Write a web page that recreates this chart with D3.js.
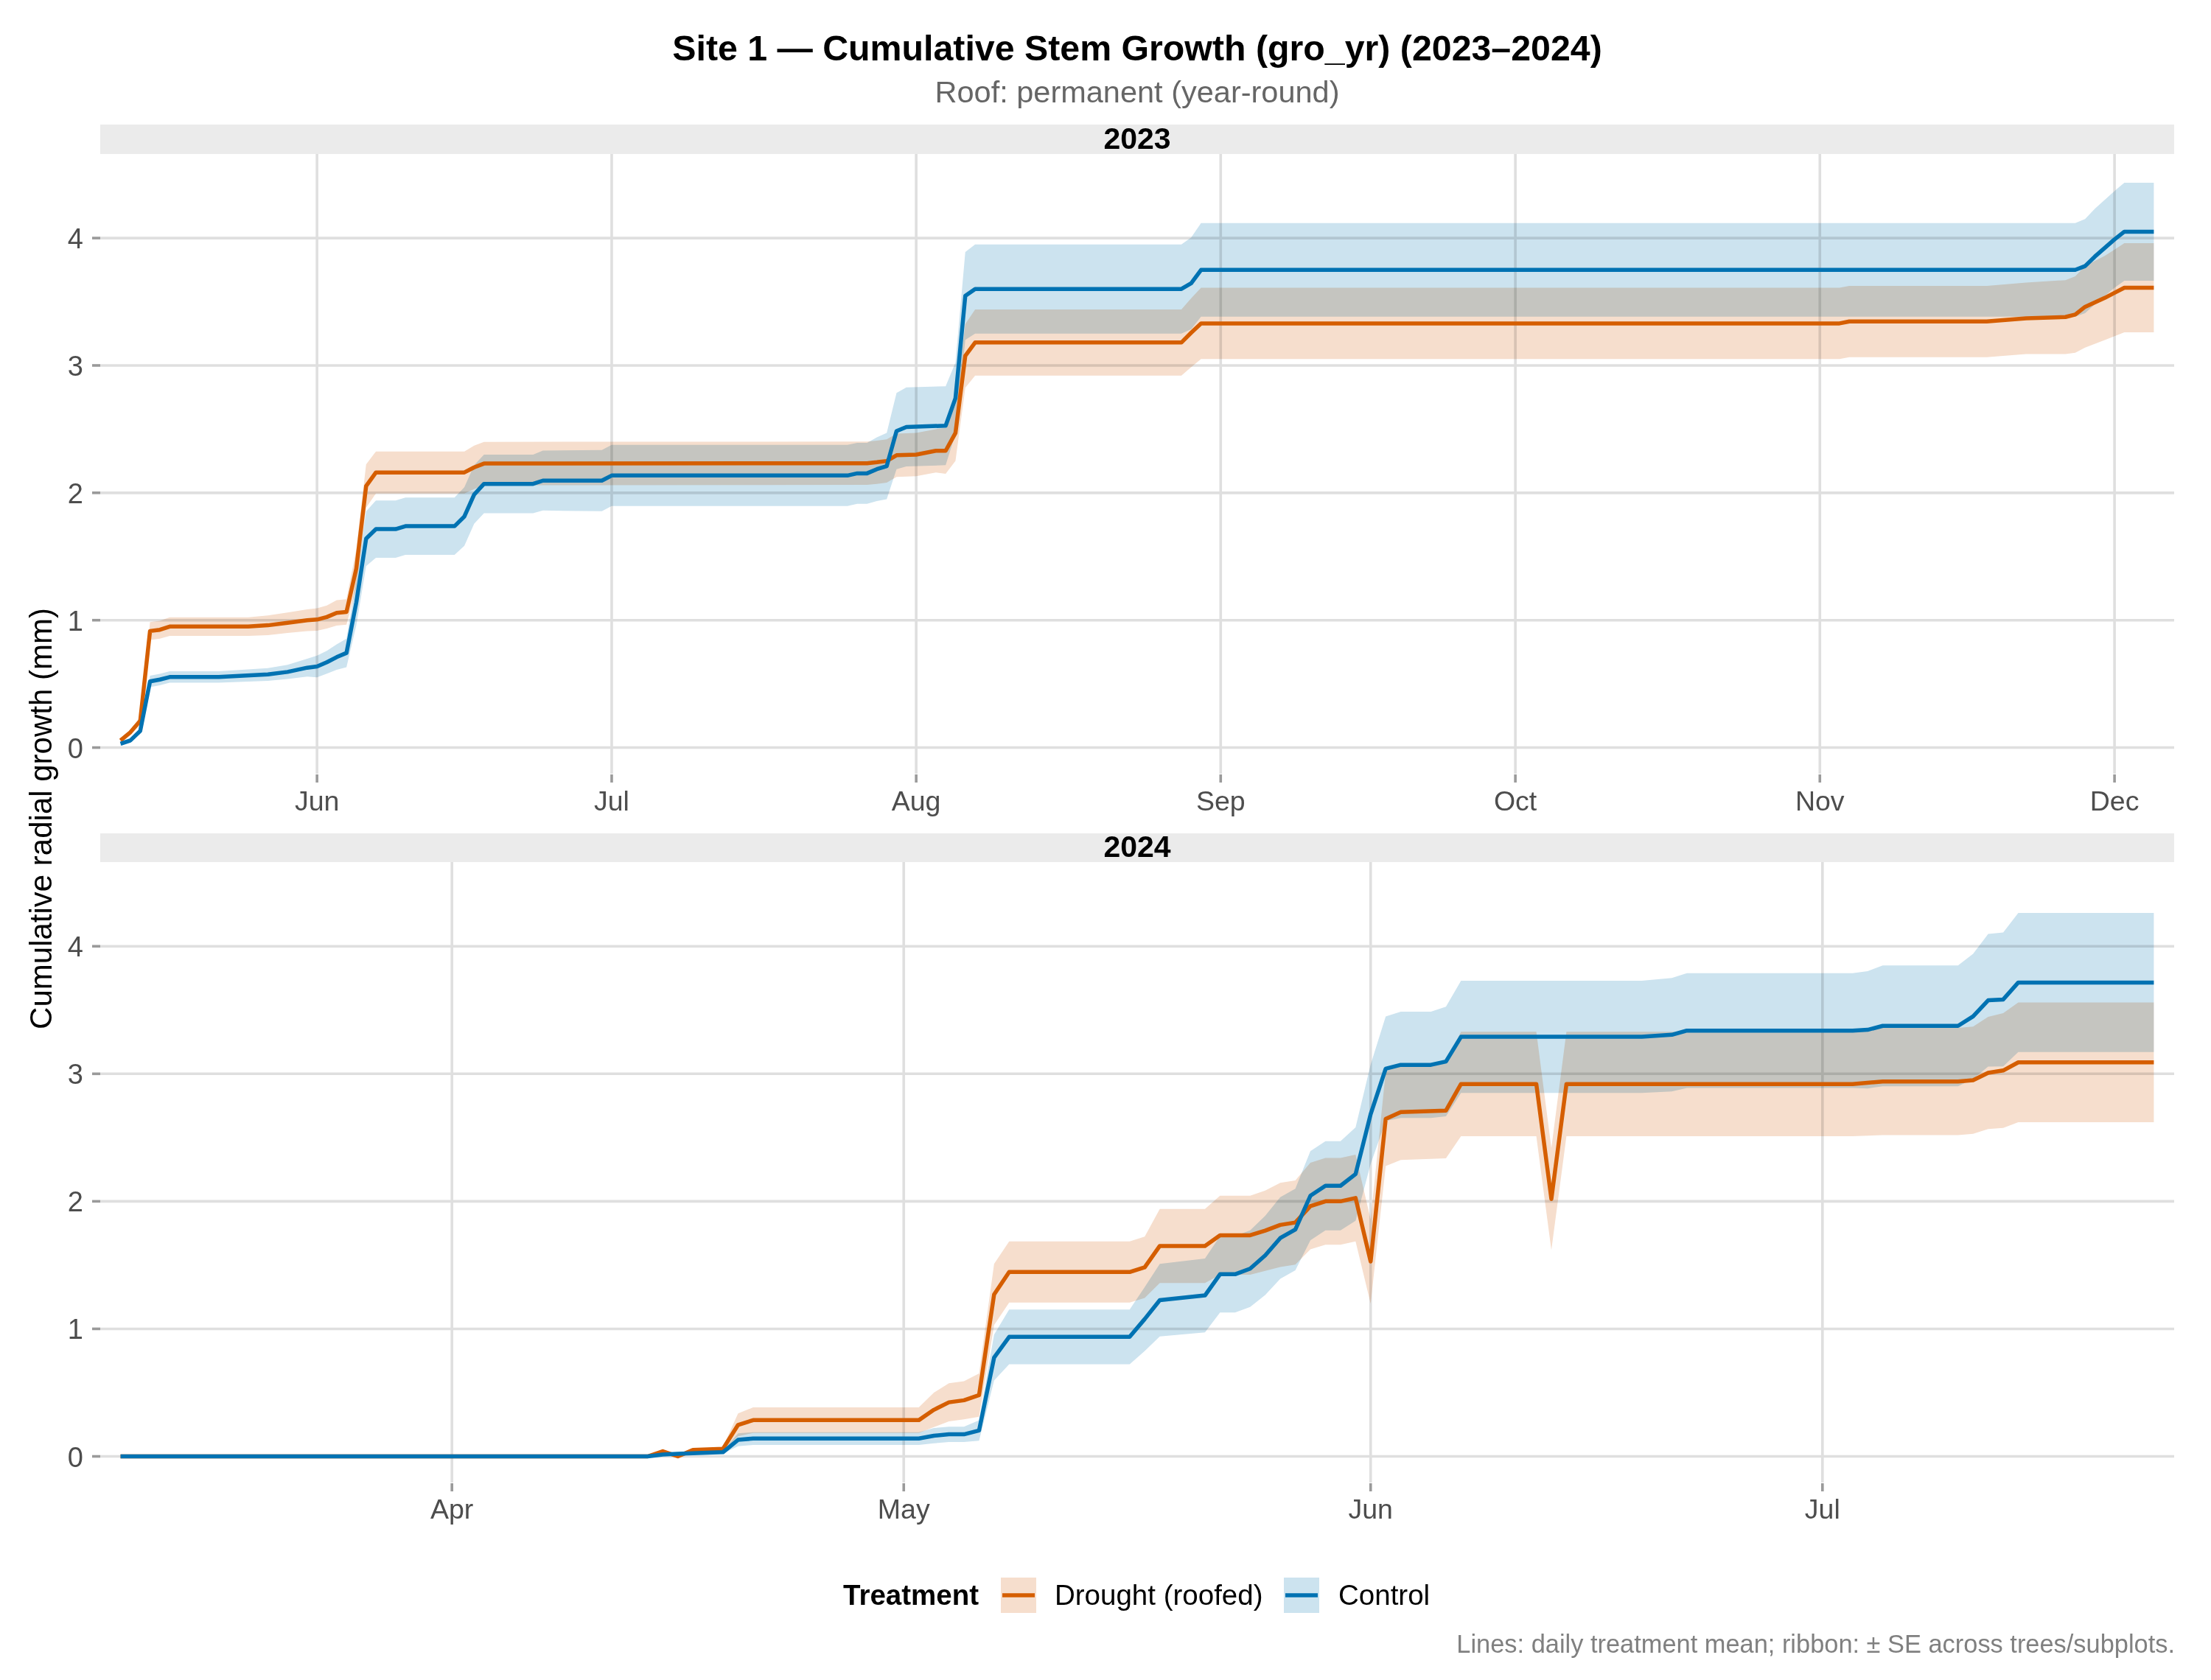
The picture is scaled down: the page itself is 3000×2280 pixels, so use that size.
<!DOCTYPE html>
<html><head><meta charset="utf-8">
<script src="https://cdn.jsdelivr.net/npm/d3@7/dist/d3.min.js"></script>
<style>
body{margin:0;background:#fff}
text{font-family:"Liberation Sans",Arial,Helvetica,sans-serif}
</style>
</head><body>
<svg id="chart" width="3000" height="2280"></svg>
<script>
// ---------- DATA: [date, mean cumulative growth (mm), SE (mm)] ----------
const drought2023 = [
 ["2023-05-12",0.056,0.02],["2023-05-13",0.12,0.02],["2023-05-14",0.21,0.03],["2023-05-15",0.915,0.07],
 ["2023-05-16",0.925,0.07],["2023-05-17",0.95,0.073],["2023-05-25",0.95,0.073],["2023-05-27",0.96,0.078],
 ["2023-05-29",0.98,0.08],["2023-05-31",1.0,0.085],["2023-06-01",1.005,0.088],["2023-06-02",1.025,0.09],
 ["2023-06-03",1.058,0.10],["2023-06-04",1.065,0.10],["2023-06-05",1.406,0.15],["2023-06-06",2.053,0.17],
 ["2023-06-07",2.16,0.165],["2023-06-16",2.16,0.165],["2023-06-17",2.20,0.17],["2023-06-18",2.23,0.17],
 ["2023-07-27",2.232,0.17],["2023-07-28",2.24,0.17],["2023-07-29",2.25,0.17],["2023-07-30",2.295,0.17],
 ["2023-08-01",2.30,0.17],["2023-08-03",2.33,0.17],["2023-08-04",2.33,0.18],["2023-08-05",2.47,0.22],
 ["2023-08-06",3.075,0.25],["2023-08-07",3.18,0.26],["2023-08-28",3.18,0.26],["2023-08-29",3.257,0.27],
 ["2023-08-30",3.33,0.28],["2023-11-03",3.33,0.28],["2023-11-04",3.345,0.28],["2023-11-18",3.345,0.28],
 ["2023-11-22",3.37,0.28],["2023-11-26",3.38,0.29],["2023-11-27",3.40,0.30],["2023-11-28",3.46,0.32],
 ["2023-11-30",3.53,0.33],["2023-12-01",3.57,0.34],["2023-12-02",3.61,0.35],["2023-12-05",3.61,0.35]
];
const control2023 = [
 ["2023-05-12",0.03,0.015],["2023-05-13",0.056,0.02],["2023-05-14",0.13,0.02],["2023-05-15",0.52,0.045],
 ["2023-05-16",0.534,0.045],["2023-05-17",0.554,0.045],["2023-05-22",0.554,0.045],["2023-05-27",0.574,0.05],
 ["2023-05-29",0.594,0.055],["2023-05-31",0.627,0.07],["2023-06-01",0.637,0.085],["2023-06-02",0.67,0.09],
 ["2023-06-03",0.71,0.10],["2023-06-04",0.743,0.112],["2023-06-05",1.14,0.18],["2023-06-06",1.64,0.215],
 ["2023-06-07",1.715,0.225],["2023-06-09",1.715,0.225],["2023-06-10",1.738,0.225],["2023-06-15",1.738,0.225],
 ["2023-06-16",1.814,0.23],["2023-06-17",1.987,0.23],["2023-06-18",2.07,0.23],["2023-06-23",2.07,0.23],
 ["2023-06-24",2.096,0.235],["2023-06-30",2.096,0.24],["2023-07-01",2.136,0.24],["2023-07-25",2.136,0.24],
 ["2023-07-26",2.153,0.24],["2023-07-27",2.153,0.24],["2023-07-28",2.186,0.25],["2023-07-29",2.21,0.26],
 ["2023-07-30",2.485,0.30],["2023-07-31",2.517,0.31],["2023-08-04",2.527,0.31],["2023-08-05",2.743,0.28],
 ["2023-08-06",3.546,0.345],["2023-08-07",3.60,0.35],["2023-08-28",3.60,0.35],["2023-08-29",3.645,0.36],
 ["2023-08-30",3.75,0.367],["2023-11-27",3.75,0.367],["2023-11-28",3.78,0.37],["2023-11-29",3.855,0.375],
 ["2023-12-01",3.99,0.38],["2023-12-02",4.05,0.385],["2023-12-05",4.05,0.385]
];
const drought2024 = [
 ["2024-03-10",0,0],["2024-04-14",0,0],["2024-04-15",0.04,0.01],["2024-04-16",0.0,0.01],
 ["2024-04-17",0.05,0.01],["2024-04-19",0.06,0.015],["2024-04-20",0.247,0.09],["2024-04-21",0.284,0.10],
 ["2024-05-02",0.284,0.10],["2024-05-03",0.365,0.135],["2024-05-04",0.424,0.15],["2024-05-05",0.44,0.15],
 ["2024-05-06",0.48,0.17],["2024-05-07",1.27,0.24],["2024-05-08",1.446,0.24],["2024-05-16",1.446,0.24],
 ["2024-05-17",1.483,0.24],["2024-05-18",1.65,0.29],["2024-05-21",1.65,0.29],["2024-05-22",1.734,0.31],
 ["2024-05-24",1.734,0.31],["2024-05-25",1.77,0.315],["2024-05-26",1.815,0.33],["2024-05-27",1.834,0.33],
 ["2024-05-28",1.963,0.34],["2024-05-29",2.0,0.34],["2024-05-30",2.0,0.34],["2024-05-31",2.026,0.34],
 ["2024-06-01",1.528,0.33],["2024-06-02",2.646,0.37],["2024-06-03",2.70,0.375],["2024-06-06",2.712,0.375],
 ["2024-06-07",2.92,0.41],["2024-06-12",2.92,0.41],["2024-06-13",2.018,0.40],["2024-06-14",2.92,0.41],
 ["2024-07-03",2.92,0.41],["2024-07-05",2.94,0.42],["2024-07-10",2.94,0.42],["2024-07-11",2.95,0.42],
 ["2024-07-12",3.007,0.44],["2024-07-13",3.026,0.45],["2024-07-14",3.09,0.47],["2024-07-23",3.09,0.47]
];
const control2024 = [
 ["2024-03-10",0,0],["2024-04-14",0,0],["2024-04-15",0.015,0.005],["2024-04-16",0.02,0.008],["2024-04-19",0.033,0.01],
 ["2024-04-20",0.13,0.05],["2024-04-21",0.14,0.05],["2024-05-02",0.14,0.05],["2024-05-03",0.162,0.06],
 ["2024-05-04",0.173,0.06],["2024-05-05",0.173,0.06],["2024-05-06",0.203,0.08],["2024-05-07",0.775,0.18],
 ["2024-05-08",0.937,0.215],["2024-05-16",0.937,0.215],["2024-05-17",1.077,0.25],["2024-05-18",1.225,0.285],
 ["2024-05-21",1.262,0.29],["2024-05-22",1.428,0.30],["2024-05-23",1.428,0.30],["2024-05-24",1.472,0.30],
 ["2024-05-25",1.576,0.31],["2024-05-26",1.712,0.32],["2024-05-27",1.779,0.32],["2024-05-28",2.044,0.35],
 ["2024-05-29",2.122,0.35],["2024-05-30",2.122,0.35],["2024-05-31",2.214,0.366],["2024-06-01",2.683,0.39],
 ["2024-06-02",3.04,0.41],["2024-06-03",3.07,0.417],["2024-06-05",3.07,0.417],["2024-06-06",3.096,0.43],
 ["2024-06-07",3.29,0.44],["2024-06-19",3.29,0.44],["2024-06-21",3.306,0.445],["2024-06-22",3.339,0.45],
 ["2024-07-03",3.339,0.45],["2024-07-04",3.345,0.46],["2024-07-05",3.376,0.474],["2024-07-10",3.376,0.474],
 ["2024-07-11",3.45,0.49],["2024-07-12",3.576,0.52],["2024-07-13",3.583,0.525],["2024-07-14",3.716,0.545],
 ["2024-07-23",3.716,0.545]
];
const years = ["2023","2024"];
const treatments = ["Drought (roofed)","Control"];
const xTicks2023 = [["2023-06-01","Jun"],["2023-07-01","Jul"],["2023-08-01","Aug"],["2023-09-01","Sep"],["2023-10-01","Oct"],["2023-11-01","Nov"],["2023-12-01","Dec"]];
const xTicks2024 = [["2024-04-01","Apr"],["2024-05-01","May"],["2024-06-01","Jun"],["2024-07-01","Jul"]];
const yTicks = [0,1,2,3,4];
const titleText = "Site 1 \u2014 Cumulative Stem Growth (gro_yr) (2023\u20132024)";
const subtitleText = "Roof: permanent (year-round)";
const yTitle = "Cumulative radial growth (mm)";
const captionText = "Lines: daily treatment mean; ribbon: \u00b1 SE across trees/subplots.";

// ---------- STYLE ----------
const lineCol = {"Drought (roofed)":"#D55E00","Control":"#0072B2"};
const fillCol = {"Drought (roofed)":"#F6DECD","Control":"#CCE3EF"};
const gridCol = "#DFDFDF", tickCol = "#9A9A9A", txtCol = "#4D4D4D";
const W = 3000, H = 2280, L = 136, R = 2950;
const parse = d3.utcParse("%Y-%m-%d");

const svg = d3.select("#chart");
svg.append("rect").attr("width",W).attr("height",H).attr("fill","#fff");

const panels = [
  {year:years[0], stripTop:169, top:209, bottom:1050, series:[drought2023,control2023], ticks:xTicks2023, labelY:1100},
  {year:years[1], stripTop:1131, top:1170, bottom:2012, series:[drought2024,control2024], ticks:xTicks2024, labelY:2061}
];
const yDomain = [-0.205, 4.66];

panels.forEach(p => {
  const all = p.series.flat().map(d => parse(d[0]));
  const ext = d3.extent(all);
  const pad = (ext[1] - ext[0]) * 0.01;
  const x = d3.scaleUtc().domain([new Date(+ext[0]-pad), new Date(+ext[1]+pad)]).range([L,R]);
  const y = d3.scaleLinear().domain(yDomain).range([p.bottom,p.top]);
  const g = svg.append("g");

  // strip
  g.append("rect").attr("x",L).attr("y",p.stripTop).attr("width",R-L).attr("height",p.top-p.stripTop).attr("fill","#EBEBEB");
  g.append("text").attr("x",(L+R)/2).attr("y",p.top-7).attr("text-anchor","middle")
    .attr("font-size",41).attr("font-weight","bold").attr("fill","#000").text(p.year);

  // grid
  yTicks.forEach(v => {
    g.append("line").attr("x1",L).attr("x2",R).attr("y1",y(v)).attr("y2",y(v)).attr("stroke",gridCol).attr("stroke-width",3.6);
    g.append("line").attr("x1",L-11).attr("x2",L).attr("y1",y(v)).attr("y2",y(v)).attr("stroke",tickCol).attr("stroke-width",3.6);
    g.append("text").attr("x",L-23).attr("y",y(v)+14).attr("text-anchor","end").attr("font-size",38).attr("fill",txtCol).text(v);
  });
  p.ticks.forEach(t => {
    const xx = x(parse(t[0]));
    g.append("line").attr("x1",xx).attr("x2",xx).attr("y1",p.top).attr("y2",p.bottom).attr("stroke",gridCol).attr("stroke-width",3.6);
    g.append("line").attr("x1",xx).attr("x2",xx).attr("y1",p.bottom+1).attr("y2",p.bottom+12).attr("stroke",tickCol).attr("stroke-width",3.6);
    g.append("text").attr("x",xx).attr("y",p.labelY).attr("text-anchor","middle").attr("font-size",37.5).attr("fill",txtCol).text(t[1]);
  });

  // ribbons
  const area = d3.area().x(d=>x(parse(d[0]))).y0(d=>y(d[1]-d[2])).y1(d=>y(d[1]+d[2]));
  p.series.forEach((s,i) => {
    g.append("path").attr("d",area(s)).attr("fill",fillCol[treatments[i]]).style("mix-blend-mode","multiply");
  });
  // lines
  const line = d3.line().x(d=>x(parse(d[0]))).y(d=>y(d[1]));
  p.series.forEach((s,i) => {
    g.append("path").attr("d",line(s)).attr("fill","none").attr("stroke",lineCol[treatments[i]])
      .attr("stroke-width",5.5).attr("stroke-linejoin","round");
  });
});

// titles
svg.append("text").attr("x",(L+R)/2).attr("y",82).attr("text-anchor","middle").attr("font-size",48.3)
  .attr("font-weight","bold").attr("fill","#000").text(titleText);
svg.append("text").attr("x",(L+R)/2).attr("y",139).attr("text-anchor","middle").attr("font-size",41.5)
  .attr("fill","#666666").text(subtitleText);
svg.append("text").attr("transform","translate(70,1111) rotate(-90)").attr("text-anchor","middle")
  .attr("font-size",42).attr("fill","#000").text(yTitle);

// legend
const lg = svg.append("g");
lg.append("text").attr("x",1144).attr("y",2178).attr("font-size",38.5).attr("font-weight","bold").attr("fill","#000").text("Treatment");
const keyX = [1358,1742], labX = [1431,1816];
treatments.forEach((t,i) => {
  lg.append("rect").attr("x",keyX[i]).attr("y",2141).attr("width",48).attr("height",48).attr("fill",fillCol[t]);
  lg.append("line").attr("x1",keyX[i]+2).attr("x2",keyX[i]+46).attr("y1",2165).attr("y2",2165).attr("stroke",lineCol[t]).attr("stroke-width",5.5);
  lg.append("text").attr("x",labX[i]).attr("y",2178).attr("font-size",38.5).attr("fill","#000").text(t);
});
svg.append("text").attr("x",2951).attr("y",2243).attr("text-anchor","end").attr("font-size",34.4).attr("fill","#808080").text(captionText);
</script>
</body></html>
